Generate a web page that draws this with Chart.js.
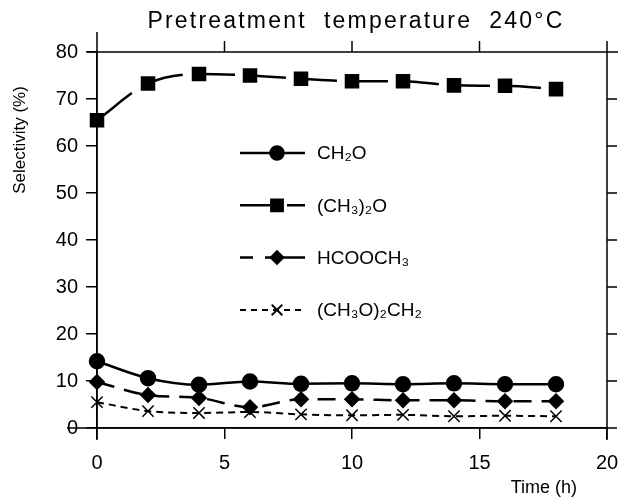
<!DOCTYPE html>
<html>
<head>
<meta charset="utf-8">
<script src="https://cdn.jsdelivr.net/npm/chart.js"></script>
<style>
  html, body { margin: 0; padding: 0; background: #fff; }
  canvas { display: block; }
</style>
</head>
<body>
<canvas id="grafico" width="618" height="501"></canvas>
<script>
// valores
const tiempos = [0, 2, 4, 6, 8, 10, 12, 14, 16, 18];
const ch2o = [14.2, 10.6, 9.2, 9.9, 9.4, 9.5, 9.3, 9.5, 9.3, 9.3];
const dme = [65.5, 73.3, 75.3, 75.0, 74.3, 73.8, 73.8, 72.9, 72.8, 72.1];
const hcooch3 = [9.8, 7.0, 6.4, 4.4, 6.1, 6.1, 5.9, 5.9, 5.7, 5.7];
const dmm = [5.5, 3.6, 3.2, 3.4, 2.9, 2.7, 2.8, 2.5, 2.6, 2.5];

const ticksX = [0, 5, 10, 15, 20];
const ticksY = [0, 10, 20, 30, 40, 50, 60, 70, 80];

const titulo = "Pretreatment  temperature  240°C";
const tituloX = "Time (h)";
const tituloY = "Selectivity (%)";

const fuente = "'Liberation Sans', Arial, 'DejaVu Sans', sans-serif";

function puntos(valores) {
    return tiempos.map((t, i) => ({ x: t, y: valores[i] }));
}

// patron de trazo para la leyenda
const trazoLeyenda = [[], [30, 17, 18, 100], [13, 12, 40, 100], [6, 5]];

const marco = {
    id: "marco",
    afterDraw(chart) {
        const { ctx, chartArea: a, scales } = chart;
        const x = scales.x, y = scales.y;
        ctx.save();
        ctx.strokeStyle = "#000";
        ctx.lineWidth = 1.5;
        ctx.setLineDash([]);
        ctx.beginPath();
        ctx.moveTo(a.left - 10, a.top); ctx.lineTo(a.right + 11, a.top);
        ctx.moveTo(a.right, a.top - 8); ctx.lineTo(a.right, a.bottom + 12);
        ctx.moveTo(a.left, a.top - 20); ctx.lineTo(a.left, a.bottom + 12);
        ctx.moveTo(a.left - 30, a.bottom); ctx.lineTo(a.right + 6, a.bottom);
        ticksX.forEach(v => {
            const px = x.getPixelForValue(v);
            ctx.moveTo(px, a.top); ctx.lineTo(px, a.top - 11);
        });
        ticksY.forEach(v => {
            const py = y.getPixelForValue(v);
            ctx.moveTo(a.right, py); ctx.lineTo(a.right + 10, py);
        });
        ctx.stroke();

        // titulos
        ctx.fillStyle = "#000";
        ctx.textBaseline = "middle";
        ctx.textAlign = "center";
        ctx.font = "23px " + fuente;
        if ("letterSpacing" in ctx) ctx.letterSpacing = "2.2px";
        ctx.fillText(titulo, (a.left + a.right) / 2 + 4, 22);
        if ("letterSpacing" in ctx) ctx.letterSpacing = "0px";

        ctx.font = "18px " + fuente;
        ctx.textAlign = "right";
        ctx.fillText(tituloX, a.right - 30, a.bottom + 60);

        ctx.save();
        ctx.translate(20, a.top + 88);
        ctx.rotate(-Math.PI / 2);
        ctx.textAlign = "center";
        ctx.font = "17px " + fuente;
        ctx.fillText(tituloY, 0, 0);
        ctx.restore();

        // leyenda dentro del grafico
        chart.data.datasets.forEach((ds, i) => {
            const ly = a.top + 101 + i * 52.3;
            ctx.lineWidth = ds.borderWidth;
            ctx.setLineDash(trazoLeyenda[i]);
            ctx.beginPath();
            ctx.moveTo(240, ly); ctx.lineTo(305, ly);
            ctx.stroke();
            ctx.setLineDash([]);
            Chart.helpers.drawPoint(ctx, {
                pointStyle: ds.pointStyle,
                radius: ds.pointRadius - 0.5,
                borderWidth: ds.pointStyle === "crossRot" ? 1.5 : 1,
                rotation: 0
            }, 277, ly);
            ctx.fillStyle = "#000";
            ctx.strokeStyle = "#000";
            ctx.font = "19px " + fuente;
            ctx.textAlign = "left";
            ctx.fillText(ds.label, 317, ly + 1);
        });
        ctx.restore();
    }
};

new Chart(document.getElementById("grafico"), {
    type: "line",
    data: {
        datasets: [
            {
                label: "CH₂O",
                data: puntos(ch2o),
                borderColor: "#000",
                backgroundColor: "#000",
                borderWidth: 2.5,
                pointStyle: "circle",
                pointRadius: 7,
                cubicInterpolationMode: "monotone",
                clip: false
            },
            {
                label: "(CH₃)₂O",
                data: puntos(dme),
                borderColor: "#000",
                backgroundColor: "#000",
                borderWidth: 2.5,
                borderDash: [36, 100],
                segment: {
                    borderDash: c => c.p0DataIndex === 0 ? [44, 100] : [36, 100],
                    borderDashOffset: c => c.p0DataIndex % 2 ? 0.01 : 0
                },
                pointStyle: "rect",
                pointRadius: 8.5,
                cubicInterpolationMode: "monotone",
                clip: false
            },
            {
                label: "HCOOCH₃",
                data: puntos(hcooch3),
                borderColor: "#000",
                backgroundColor: "#000",
                borderWidth: 2.5,
                borderDash: [18, 10],
                pointStyle: "rectRot",
                pointRadius: 6.5,
                cubicInterpolationMode: "monotone",
                clip: false
            },
            {
                label: "(CH₃O)₂CH₂",
                data: puntos(dmm),
                borderColor: "#000",
                backgroundColor: "#000",
                borderWidth: 2,
                borderDash: [7, 5],
                pointStyle: "crossRot",
                pointRadius: 8,
                pointBorderWidth: 1.5,
                cubicInterpolationMode: "monotone",
                clip: false
            }
        ]
    },
    options: {
        responsive: false,
        animation: false,
        devicePixelRatio: 1,
        layout: { padding: { top: 52, right: 11, bottom: 0, left: 0 } },
        plugins: {
            legend: { display: false },
            title: { display: false },
            tooltip: { enabled: false }
        },
        scales: {
            x: {
                type: "linear",
                min: 0,
                max: 20,
                afterBuildTicks: s => { s.ticks = ticksX.map(v => ({ value: v })); },
                afterFit: s => { s.height = 73; s.paddingLeft = 0; s.paddingRight = 0; },
                border: { color: "#000", width: 1.5 },
                grid: { drawOnChartArea: false, color: "#000", lineWidth: 1.5, tickLength: 11 },
                ticks: { color: "#000", padding: 12, maxRotation: 0, font: { family: fuente, size: 20 } }
            },
            y: {
                min: 0,
                max: 80,
                afterBuildTicks: s => { s.ticks = ticksY.map(v => ({ value: v })); },
                afterFit: s => { s.width = 97; s.paddingTop = 0; s.paddingBottom = 0; },
                border: { color: "#000", width: 1.5 },
                grid: { drawOnChartArea: false, color: "#000", lineWidth: 1.5, tickLength: 11 },
                ticks: { color: "#000", padding: 8, font: { family: fuente, size: 20 } }
            }
        }
    },
    plugins: [marco]
});
</script>
</body>
</html>
